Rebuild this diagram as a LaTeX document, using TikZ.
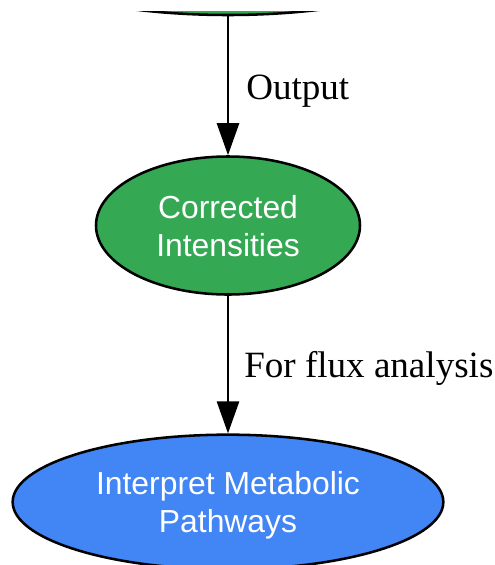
\documentclass[tikz,border=0pt]{standalone}
\usepackage{fontspec}
\setmainfont{Liberation Sans}
\newfontfamily\labelfont{Liberation Serif}
\usetikzlibrary{arrows.meta,shapes.geometric}
\definecolor{gGreen}{HTML}{34A853}
\definecolor{gBlue}{HTML}{4285F4}
\begin{document}
\begin{tikzpicture}[x=0.75pt,y=-0.75pt,
  proc/.style={ellipse, draw=black, line width=1.9pt, text=white, align=center,
    font=\fontsize{23.9pt}{28.5pt}\selectfont, inner sep=0pt, text depth=0pt},
  flow/.style={line width=2pt, -{Triangle[length=24pt,width=16.5pt]}},
  elabel/.style={font=\labelfont\fontsize{27.8pt}{32pt}\selectfont, anchor=base west, inner sep=0pt}]
\useasboundingbox (0,0) rectangle (495,565);
\begin{scope}
  \clip (0,11.5) rectangle (495,565);
  \node[proc, fill=gGreen, minimum width=360pt, minimum height=105pt] (src) at (228,-55) {};
\end{scope}
\node[proc, fill=gGreen, minimum width=198pt, minimum height=103.5pt] (corr) at (228,225.5) {Corrected\\Intensities};
\node[proc, fill=gBlue, minimum width=323pt, minimum height=101pt] (interp) at (228,502) {Interpret Metabolic\\Pathways};
\draw[flow] (src.south) -- (corr.north);
\draw[flow] (corr.south) -- (interp.north);
\node[elabel] (l1) at (246,99) {Output};
\node[elabel] (l2) at (244,377.5) {For flux analysis};
\end{tikzpicture}
\end{document}
